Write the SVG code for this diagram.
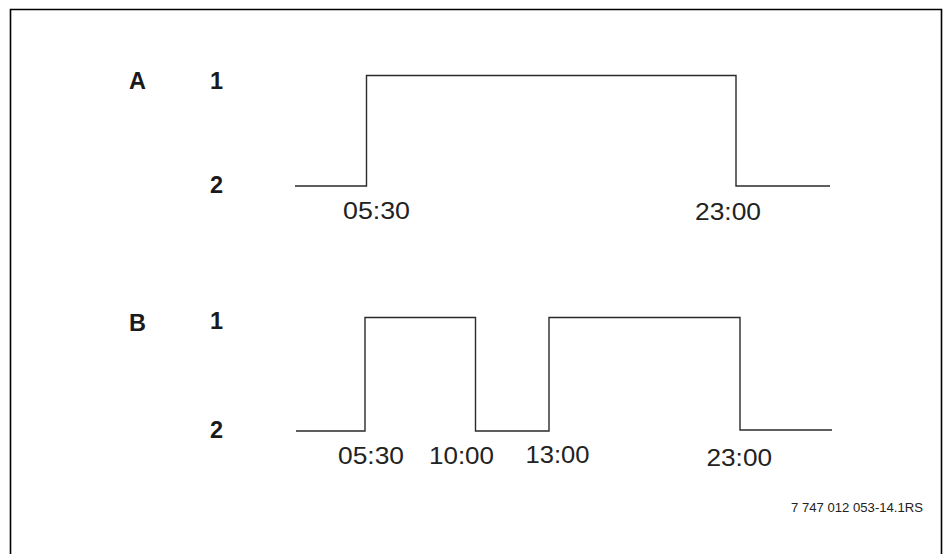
<svg xmlns="http://www.w3.org/2000/svg" width="949" height="554" viewBox="0 0 949 554">
<style>
.frame{fill:none;stroke:#000;stroke-width:1.6}
.sig{fill:none;stroke:#2a2a2a;stroke-width:1.4}
.lbl{font-family:"Liberation Sans",Arial,sans-serif;font-weight:bold;font-size:23.5px;fill:#1a1a1a}
.t{font-family:"Liberation Sans",Arial,sans-serif;font-size:24.5px;fill:#222}
.ref{font-family:"Liberation Sans",Arial,sans-serif;font-size:13.5px;fill:#222}
</style>
<rect width="949" height="554" fill="#fff"/>
<path class="frame" d="M10.5,554 V9.5 H941.5 V554"/>
<g id="chartA">
<text class="lbl" x="129" y="89">A</text>
<text class="lbl" x="210" y="89">1</text>
<text class="lbl" x="210" y="193">2</text>
<text class="t" x="343" y="218.5" textLength="67" lengthAdjust="spacingAndGlyphs">05:30</text>
<text class="t" x="695" y="220" textLength="66" lengthAdjust="spacingAndGlyphs">23:00</text>
</g>
<g id="chartB">
<text class="lbl" x="129" y="331">B</text>
<text class="lbl" x="210" y="329">1</text>
<text class="lbl" x="210" y="438">2</text>
<text class="t" x="338" y="464" textLength="66" lengthAdjust="spacingAndGlyphs">05:30</text>
<text class="t" x="429" y="464" textLength="65" lengthAdjust="spacingAndGlyphs">10:00</text>
<text class="t" x="525.5" y="463" textLength="64" lengthAdjust="spacingAndGlyphs">13:00</text>
<text class="t" x="706.5" y="466" textLength="65.5" lengthAdjust="spacingAndGlyphs">23:00</text>
</g>
<g id="connectors">
<path class="sig" d="M295,186 H366.5 V75.5 H736 V186 H830"/>
<path class="sig" d="M296,431 H365 V317.5 H475.5 V431 H549 V317.5 H740 V430 H832"/>
</g>
<g id="footer">
<text class="ref" x="791" y="512" textLength="132" lengthAdjust="spacingAndGlyphs">7 747 012 053-14.1RS</text>
</g>
</svg>
